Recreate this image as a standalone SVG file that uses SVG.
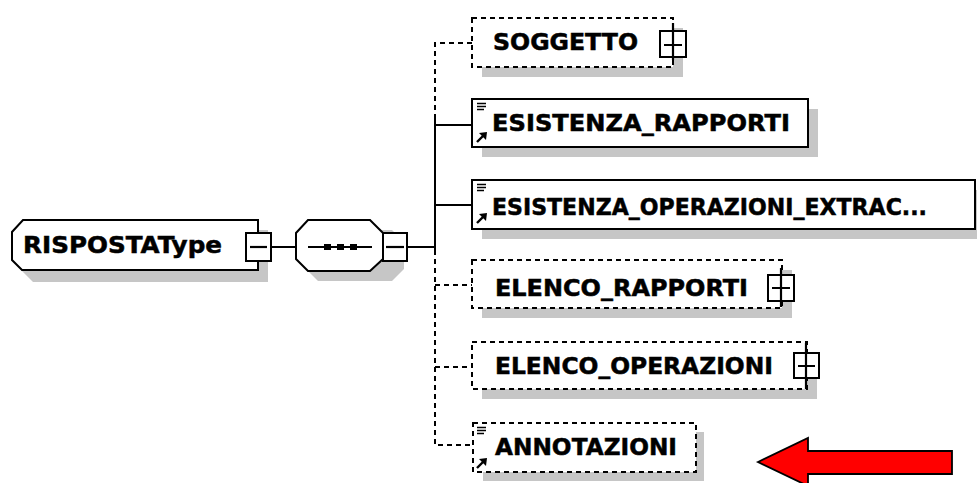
<svg xmlns="http://www.w3.org/2000/svg" width="977" height="483" viewBox="0 0 977 483">
<style>
.lbl{font-family:"DejaVu Sans","Verdana",sans-serif;font-weight:bold;font-size:23px;fill:#000;stroke:#000;stroke-width:0.5}
.box{fill:#fff;stroke:#000;stroke-width:2}
.dbox{fill:#fff;stroke:#000;stroke-width:2;stroke-dasharray:5,4}
.shadow{fill:#c6c6c6}
.con{fill:none;stroke:#000;stroke-width:2}
.dcon{fill:none;stroke:#000;stroke-width:2;stroke-dasharray:5,4}
.btn{fill:#fff;stroke:#000;stroke-width:2}
.sym{stroke:#000;stroke-width:2.2;fill:none}
</style>
<defs>
<g id="docicon"><path d="M0,0.5h9M0,3.5h9M0,6.5h7" stroke="#000" stroke-width="1.4" fill="none"/></g>
<g id="refarrow"><path d="M1,10L7,4" stroke="#000" stroke-width="2.4" fill="none"/><polygon points="3,1 11,0 10,8" fill="#000"/></g>
</defs>

<g id="connectors">
<path class="con" d="M271,247H297"/>
<path class="con" d="M407,247H435"/>
<path class="dcon" d="M472,43H435V118"/>
<path class="con" d="M435,118V250"/>
<path class="con" d="M435,125H472"/>
<path class="con" d="M435,205H472"/>
<path class="dcon" d="M435,250V445H473"/>
<path class="dcon" d="M435,285H472"/>
<path class="dcon" d="M435,367H472"/>
</g>

<g id="node-risposta">
<polygon class="shadow" points="22,230 33,230 268,230 268,282 33,282 22,271"/>
<polygon class="box" points="23,220 258,220 258,270 22,270 12,260 12,232"/>
<text class="lbl" x="23" y="253" textLength="199" lengthAdjust="spacingAndGlyphs">RISPOSTAType</text>
<rect class="btn" x="246" y="233" width="25" height="28"/>
<path class="sym" d="M250,247H267"/>
</g>

<g id="node-sequence">
<polygon class="shadow" points="318,230 392,230 404,242 404,269 392,281 318,281 306,269 306,242"/>
<polygon class="box" points="308,220 370,220 383,233 383,259 370,271 308,271 296,259 296,233"/>
<path class="sym" d="M308,247H372"/>
<rect x="324" y="244" width="7" height="6" fill="#000"/>
<rect x="337" y="244" width="7" height="6" fill="#000"/>
<rect x="350" y="244" width="7" height="6" fill="#000"/>
<rect class="btn" x="383" y="233" width="24" height="28"/>
<path class="sym" d="M386,247H404"/>
</g>

<g id="node-soggetto">
<rect class="shadow" x="482" y="28" width="201" height="49"/>
<rect class="dbox" x="472" y="18" width="201" height="49"/>
<text class="lbl" x="493" y="50" textLength="145" lengthAdjust="spacingAndGlyphs">SOGGETTO</text>
<rect class="btn" x="660" y="31" width="26" height="26"/>
<path class="sym" d="M664,45H682M673,23V60"/>
</g>

<g id="node-esistenza-rapporti">
<rect class="shadow" x="482" y="109" width="336" height="48"/>
<rect class="box" x="472" y="99" width="336" height="48"/>
<use href="#docicon" x="477" y="103"/>
<use href="#refarrow" x="476" y="132"/>
<text class="lbl" x="492" y="131" textLength="298" lengthAdjust="spacingAndGlyphs">ESISTENZA_RAPPORTI</text>
</g>

<g id="node-esistenza-operazioni">
<rect class="shadow" x="482" y="190" width="500" height="49"/>
<rect class="box" x="472" y="180" width="503" height="49"/>
<use href="#docicon" x="477" y="184"/>
<use href="#refarrow" x="476" y="213"/>
<text class="lbl" x="492" y="215" textLength="435" lengthAdjust="spacingAndGlyphs">ESISTENZA_OPERAZIONI_EXTRAC...</text>
</g>

<g id="node-elenco-rapporti">
<rect class="shadow" x="482" y="270" width="310" height="48"/>
<rect class="dbox" x="472" y="260" width="310" height="48"/>
<text class="lbl" x="495" y="296" textLength="253" lengthAdjust="spacingAndGlyphs">ELENCO_RAPPORTI</text>
<rect class="btn" x="768" y="275" width="26" height="26"/>
<path class="sym" d="M772,288H790M781,268V307"/>
</g>

<g id="node-elenco-operazioni">
<rect class="shadow" x="482" y="352" width="335" height="47"/>
<rect class="dbox" x="472" y="342" width="335" height="47"/>
<text class="lbl" x="495" y="374" textLength="278" lengthAdjust="spacingAndGlyphs">ELENCO_OPERAZIONI</text>
<rect class="btn" x="794" y="353" width="25" height="25"/>
<path class="sym" d="M798,366H815M806,343V389"/>
</g>

<g id="node-annotazioni">
<rect class="shadow" x="483" y="432" width="221" height="49"/>
<rect class="dbox" x="473" y="423" width="223" height="49"/>
<use href="#docicon" x="477" y="427"/>
<use href="#refarrow" x="476" y="458"/>
<text class="lbl" x="495" y="455" textLength="182" lengthAdjust="spacingAndGlyphs">ANNOTAZIONI</text>
</g>

<g id="red-arrow">
<polygon points="758,462 808,438 808,451 952,451 952,474 808,474 808,486" fill="#ff0000" stroke="#000" stroke-width="1.8"/>
</g>
</svg>
